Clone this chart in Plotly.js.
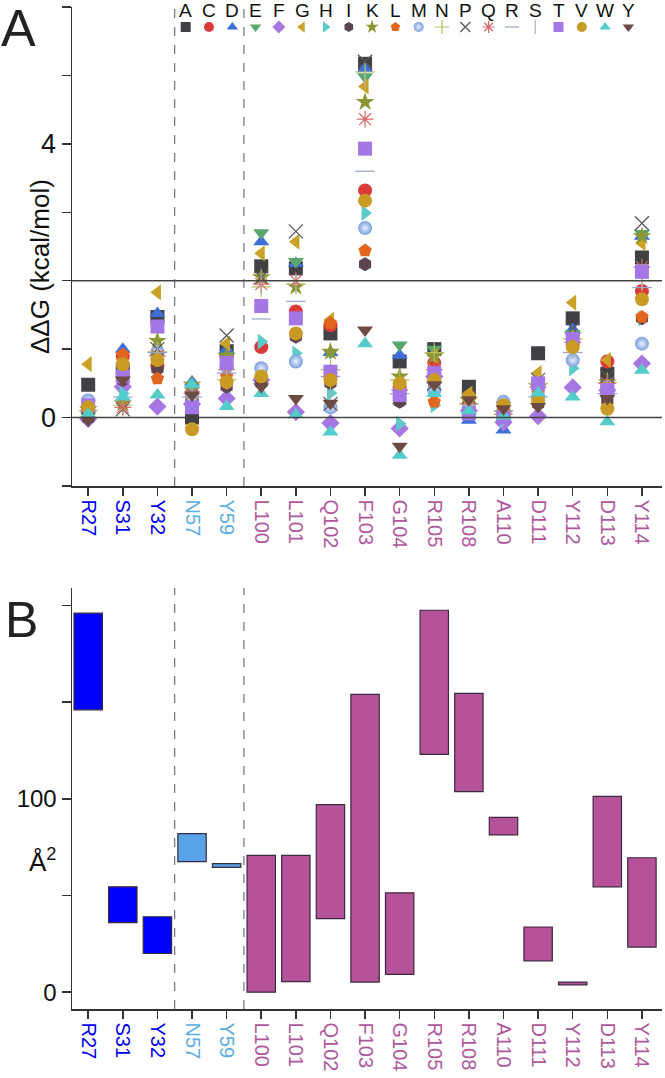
<!DOCTYPE html>
<html>
<head>
<meta charset="utf-8">
<script src="https://cdn.plot.ly/plotly-3.0.1.min.js"></script>
<style>html,body{margin:0;padding:0;background:#fff;}#chart{width:665px;height:1078px;}</style>
</head>
<body>
<div id="chart"></div>
<script>
// ---------- DATA ----------
const residues = ['R27','S31','Y32','N57','Y59','L100','L101','Q102','F103','G104','R105','R108','A110','D111','Y112','D113','Y114'];
const residueGroup = [0,0,0,1,1,2,2,2,2,2,2,2,2,2,2,2,2];
const aminoAcids = ['A','C','D','E','F','G','H','I','K','L','M','N','P','Q','R','S','T','V','W','Y'];

// ddG (kcal/mol) per substitution, one value per residue (null = wild type)
const ddG_A = [0.48,0.70,1.47,0.00,0.97,2.21,2.18,1.23,5.17,0.82,1.00,0.45,null,0.94,1.45,0.64,2.34];
const ddG_C = [0.12,0.90,0.75,0.35,0.90,1.03,1.55,1.35,3.32,0.45,0.80,0.30,0.10,0.45,1.15,0.82,1.85];
const ddG_D = [0.20,1.00,1.52,0.52,0.99,2.57,2.25,0.95,5.10,0.91,0.55,-0.04,-0.18,null,1.29,null,2.65];
const ddG_E = [0.03,0.40,0.90,0.40,0.90,2.70,2.28,0.95,4.98,1.06,1.00,0.30,0.05,0.40,1.23,0.50,2.69];
const ddG_F = [-0.02,0.45,0.16,0.20,0.28,0.55,0.08,-0.08,null,-0.16,0.60,0.10,-0.07,0.02,0.44,0.40,0.79];
const ddG_G = [0.78,0.85,1.83,0.40,1.08,2.40,2.57,1.43,4.84,null,0.90,0.35,0.15,0.65,1.68,0.84,2.55];
const ddG_H = [0.08,0.35,0.85,0.45,0.80,1.11,0.94,0.36,2.99,-0.09,0.18,0.16,-0.04,0.40,0.72,0.40,1.45];
const ddG_I = [-0.01,0.55,0.71,0.30,0.45,0.50,1.18,0.50,2.24,0.23,0.45,0.20,0.10,0.20,1.05,0.25,1.45];
const ddG_K = [0.12,0.21,1.12,0.48,0.90,2.05,1.91,0.96,4.61,0.60,0.90,0.25,0.05,0.45,1.20,0.51,2.65];
const ddG_L = [0.22,0.92,0.57,0.30,0.60,null,null,1.38,2.44,0.40,0.23,0.20,0.08,0.35,1.10,0.45,1.47];
const ddG_M = [0.25,0.65,0.96,0.30,0.75,0.72,0.82,0.15,2.77,0.35,0.40,0.15,0.23,0.30,0.84,0.45,1.08];
const ddG_N = [0.10,0.18,0.96,null,0.55,1.91,1.95,0.70,5.05,0.55,0.95,0.20,0.05,0.50,1.15,0.51,2.00];
const ddG_P = [0.15,0.12,1.00,0.35,1.20,2.05,2.72,0.20,5.20,0.30,0.50,0.30,0.12,0.55,1.30,0.60,2.84];
const ddG_Q = [0.10,0.15,0.90,0.35,0.70,1.95,2.00,null,4.36,0.40,0.70,0.20,0.05,0.45,1.10,0.50,2.20];
const ddG_R = [null,0.30,0.95,0.30,0.65,1.44,1.70,0.60,3.60,0.35,null,null,0.10,0.30,0.95,0.35,1.90];
const ddG_S = [0.08,null,0.96,0.30,0.70,1.95,1.95,0.40,4.95,0.45,0.45,0.15,0.02,0.30,1.00,0.40,2.00];
const ddG_T = [0.18,0.60,1.33,0.15,0.80,1.63,1.45,0.67,3.93,0.33,0.65,0.06,0.00,0.50,1.15,0.40,2.13];
const ddG_V = [0.15,0.78,0.84,-0.17,0.52,0.60,1.23,0.55,3.17,0.50,0.55,0.30,0.18,0.25,1.03,0.13,1.73];
const ddG_W = [0.05,0.30,0.33,0.48,0.16,0.35,0.04,-0.21,1.08,-0.55,0.35,0.10,0.02,0.36,0.30,-0.06,0.69];
const ddG_Y = [-0.04,0.55,null,0.33,null,0.45,0.28,0.21,1.28,-0.42,0.48,0.26,0.13,0.16,null,0.28,null];

// buried surface area range (Å²): low and high per residue
const areaLow  = [146,36,20,67.5,64.5,0,5.5,38,5.2,9.2,123,103.7,81.3,16.2,3.8,54.5,23.3];
const areaHigh = [196,54.5,39,82,66.5,70.7,70.7,97,154,51.4,197.5,154.5,90.4,33.7,5.2,101.2,69.5];

// ---------- STYLE ----------
const ddG = {A:ddG_A,C:ddG_C,D:ddG_D,E:ddG_E,F:ddG_F,G:ddG_G,H:ddG_H,I:ddG_I,K:ddG_K,L:ddG_L,M:ddG_M,N:ddG_N,P:ddG_P,Q:ddG_Q,R:ddG_R,S:ddG_S,T:ddG_T,V:ddG_V,W:ddG_W,Y:ddG_Y};
const style = {
  A:{s:'square',c:'#404045'}, C:{s:'circle',c:'#dc3a3a'}, D:{s:'triangle-up',c:'#3c6fd8'},
  E:{s:'triangle-down',c:'#58a76c'}, F:{s:'diamond',c:'#a776e2'}, G:{s:'triangle-left',c:'#c9a227'},
  H:{s:'triangle-right',c:'#5ccaca'}, I:{s:'hexagon',c:'#5d4450'}, K:{s:'star',c:'#8c9632'},
  L:{s:'pentagon',c:'#e2661e'}, M:{s:'circle',c:'#7b9fdc',grad:true}, N:{s:'cross-thin',c:'#b4c060',thin:true},
  P:{s:'x-thin',c:'#555555',thin:true}, Q:{s:'asterisk',c:'#d86868',thin:true}, R:{s:'line-ew',c:'#9aa6c8',thin:true},
  S:{s:'line-ns',c:'#b0b0b0',thin:true}, T:{s:'square',c:'#a476e6'}, V:{s:'circle',c:'#c99a24'},
  W:{s:'triangle-up',c:'#55cccc'}, Y:{s:'triangle-down',c:'#6e4a44'}
};
const groupTickColor = ['#0000ee','#5aaee0','#b0579c'];
const groupBarColor = ['#0000ff','#5aa3e8','#b5529a'];

const xIdx = residues.map((r,i)=>i);
const tickText = residues.map((r,i)=>'<span style="color:'+groupTickColor[residueGroup[i]]+'">'+r+'</span>');

function markerFor(aa, size){
  const st = style[aa];
  const m = {symbol:st.s, size:size, color:st.c};
  if (st.thin){ m.line = {color:st.c, width:1.2}; }
  else { m.line = {width:0}; }
  if (st.grad){ m.gradient = {type:'radial', color:'#e8f0ff'}; }
  return m;
}

const traces = [];
aminoAcids.forEach(aa=>{
  traces.push({type:'scatter', mode:'markers', x:xIdx, y:ddG[aa], xaxis:'x', yaxis:'y',
    marker:markerFor(aa,14), showlegend:false, hoverinfo:'skip'});
});
// custom legend (letter above marker)
const legIdx = aminoAcids.map((a,i)=>i);
aminoAcids.forEach((aa,i)=>{
  traces.push({type:'scatter', mode:'markers', x:[legIdx[i]], y:[13], xaxis:'x3', yaxis:'y3',
    marker:markerFor(aa,10), showlegend:false, hoverinfo:'skip'});
});
// panel B floating bars
traces.push({type:'bar', x:xIdx, base:areaLow, y:areaHigh.map((h,i)=>h-areaLow[i]),
  xaxis:'x2', yaxis:'y2', width:0.82,
  marker:{color:residueGroup.map(g=>groupBarColor[g]), line:{color:'#3a2a40', width:1.2}},
  showlegend:false, hoverinfo:'skip'});

const W=665, H=1078;
const axFont = 'Liberation Sans, Arial, sans-serif';
const xDom = [72/W, 662/W];
const xRange = [-0.468, 16.58];
const commonX = {domain:xDom, range:xRange, tickmode:'array', tickvals:xIdx, ticktext:tickText, tickangle:90,
  ticks:'outside', ticklen:8, tickwidth:1.5, tickcolor:'#333', showline:true, linewidth:1.5, linecolor:'#333',
  showgrid:false, zeroline:false, tickfont:{family:axFont, size:20}, fixedrange:true};

const layout = {
  width:W, height:H, margin:{l:0,r:0,t:0,b:0}, paper_bgcolor:'#fff', plot_bgcolor:'rgba(0,0,0,0)',
  showlegend:false,
  xaxis: Object.assign({}, commonX, {anchor:'y'}),
  yaxis: {domain:[(H-486)/H, (H-7)/H], range:[-1,6], tickmode:'array', tickvals:[-1,0,1,2,3,4,5,6],
    ticktext:['','0','','','','4','',''], ticks:'outside', ticklen:9, tickwidth:1.5, tickcolor:'#333',
    showline:true, linewidth:1.5, linecolor:'#333', showgrid:false, zeroline:false,
    tickfont:{family:axFont, size:27, color:'#111'}, anchor:'x'},
  xaxis2: Object.assign({}, commonX, {anchor:'y2'}),
  yaxis2: {domain:[(H-1009)/H, (H-588)/H], range:[-8.7,209], tickmode:'array', tickvals:[0,50,100,150,200],
    ticktext:['0','','100','',''], ticks:'outside', ticklen:9, tickwidth:1.5, tickcolor:'#333',
    showline:true, linewidth:1.5, linecolor:'#333', showgrid:false, zeroline:false,
    tickfont:{family:axFont, size:24, color:'#111'}, anchor:'x2'},
  xaxis3: {domain:[0,1], range:[-185.7/23.3, (W-185.7)/23.3], visible:false, anchor:'y3', fixedrange:true},
  yaxis3: {domain:[(H-40)/H, 1], range:[0,40], visible:false, anchor:'x3', fixedrange:true},
  shapes: [
    {type:'line', xref:'x domain', x0:0, x1:1, yref:'y', y0:0, y1:0, line:{color:'#444', width:1.5}},
    {type:'line', xref:'x domain', x0:0, x1:1, yref:'y', y0:2, y1:2, line:{color:'#444', width:1.5}},
    {type:'line', xref:'x', x0:2.5, x1:2.5, yref:'y domain', y0:0, y1:1, line:{color:'#555', width:1, dash:'dash'}},
    {type:'line', xref:'x', x0:4.5, x1:4.5, yref:'y domain', y0:0, y1:1, line:{color:'#555', width:1, dash:'dash'}},
    {type:'line', xref:'x2', x0:2.5, x1:2.5, yref:'y2 domain', y0:0, y1:1, line:{color:'#555', width:1, dash:'dash'}},
    {type:'line', xref:'x2', x0:4.5, x1:4.5, yref:'y2 domain', y0:0, y1:1, line:{color:'#555', width:1, dash:'dash'}}
  ],
  annotations: [
    {text:'A', xref:'paper', yref:'paper', x:18/W, y:1-28/H, showarrow:false, font:{family:axFont, size:52, color:'#222'}, xanchor:'center', yanchor:'middle'},
    {text:'B', xref:'paper', yref:'paper', x:22/W, y:1-620/H, showarrow:false, font:{family:axFont, size:50, color:'#222'}, xanchor:'center', yanchor:'middle'},
    {text:'ΔΔG (kcal/mol)', xref:'paper', yref:'paper', x:40/W, y:1-267/H, textangle:-90, showarrow:false, font:{family:axFont, size:26, color:'#111'}, xanchor:'center', yanchor:'middle'},
    {text:'Å<sup>2</sup>', xref:'paper', yref:'paper', x:42/W, y:1-860/H, showarrow:false, font:{family:axFont, size:26, color:'#111'}, xanchor:'center', yanchor:'middle'}
  ].concat(aminoAcids.map((aa,i)=>({text:aa, xref:'x3', yref:'y3', x:legIdx[i], y:30, showarrow:false,
      font:{family:axFont, size:19, color:'#111'}, xanchor:'center', yanchor:'middle'})))
};

Plotly.newPlot('chart', traces, layout, {staticPlot:true, displayModeBar:false});
</script>
</body>
</html>
